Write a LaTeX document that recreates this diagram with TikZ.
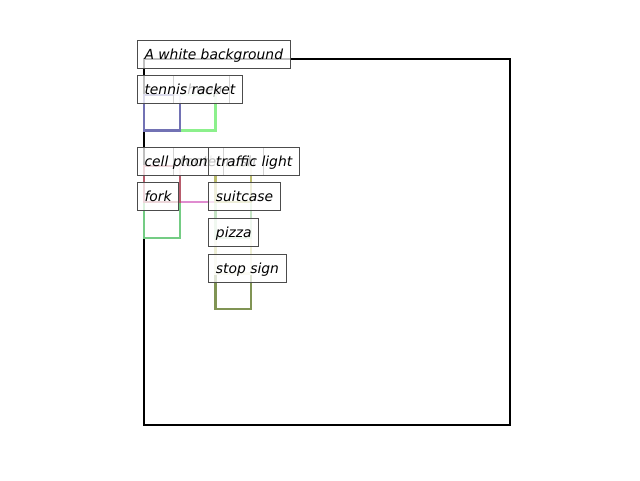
\documentclass[tikz,border=0pt]{standalone}
\usepackage{fontspec}
\newfontfamily\labelfont{DejaVu Sans}
\definecolor{racketBlue}{HTML}{7272B4}
\definecolor{sheepGreen}{HTML}{8CF08C}
\definecolor{phoneRed}{HTML}{B85C6C}
\definecolor{brushPink}{HTML}{E08CD0}
\definecolor{forkGreen}{HTML}{74CC84}
\definecolor{lightOlive}{HTML}{BCBC6C}
\definecolor{caseGreen}{HTML}{C4E4C4}
\definecolor{pizzaPale}{HTML}{EEEED4}
\definecolor{signOlive}{HTML}{809454}
\begin{document}
\begin{tikzpicture}
        [x=0.75pt, y=-0.75pt,
        lbl/.style={anchor=base west, xshift=-5.25pt, draw=black!70, line width=0.75pt, fill=white, fill opacity=0.75, text opacity=1, inner xsep=5.25pt, inner ysep=0pt, text height=14.25pt, text depth=6.75pt, font=\labelfont\itshape\fontsize{10.4}{12}\selectfont},
        cell/.style={line width=1.7pt}]
        \useasboundingbox (0,0) rectangle (640,480);
        \draw[line width=1.6pt] (144,59) rectangle (510,425);

        \draw[cell, sheepGreen] (179.74,94.74) rectangle (215.48,130.48);
        \draw[cell, racketBlue] (144,94.74) rectangle (179.74,130.48);
        \draw[cell, forkGreen] (144,201.96) rectangle (179.74,237.70);
        \draw[cell, brushPink] (179.74,166.22) rectangle (215.48,201.96);
        \draw[cell, phoneRed] (144,166.22) rectangle (179.74,201.96);
        \draw[cell, signOlive] (215.48,273.44) rectangle (251.22,309.18);
        \draw[cell, pizzaPale] (215.48,237.70) rectangle (251.22,273.44);
        \draw[cell, caseGreen] (215.48,201.96) rectangle (251.22,237.70);
        \draw[cell, lightOlive] (215.48,166.22) rectangle (251.22,201.96);

        \node[lbl] (bg) at (144,59) {A white background};
        \node[lbl] (sheep) at (179.74,94.74) {sheep};
        \node[lbl] (racket) at (144,94.74) {tennis racket};
        \node[lbl] (brush) at (179.74,166.22) {toothbrush};
        \node[lbl] (phone) at (144,166.22) {cell phone};
        \node[lbl] (light) at (215.48,166.22) {traffic light};
        \node[lbl] (fork) at (144,201.96) {fork};
        \node[lbl] (case) at (215.48,201.96) {suitcase};
        \node[lbl] (pizza) at (215.48,237.70) {pizza};
        \node[lbl] (sign) at (215.48,273.44) {stop sign};
\end{tikzpicture}
\end{document}
